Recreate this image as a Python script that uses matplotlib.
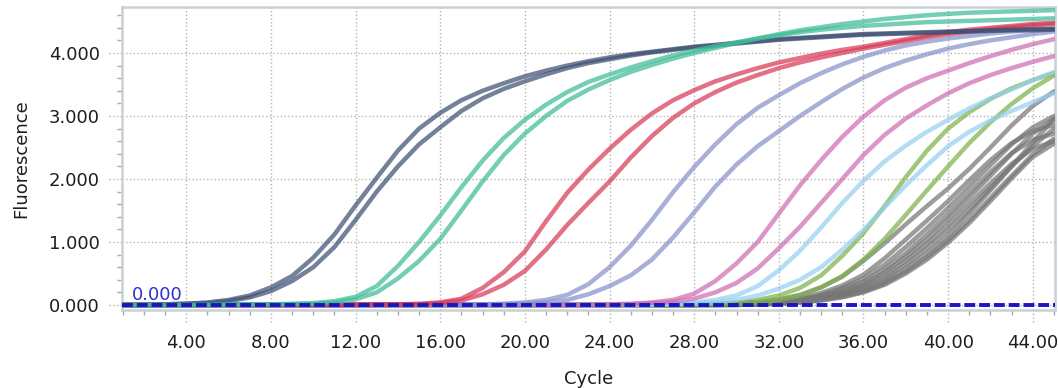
import matplotlib
matplotlib.use("Agg")
import matplotlib.pyplot as plt
from matplotlib.ticker import MultipleLocator, FormatStrFormatter

# amplification curves, one value per cycle (1..45)
cycles = list(range(1, 46))

dark_a = [0.00, 0.00, 0.01, 0.02, 0.04, 0.08, 0.15, 0.28, 0.46, 0.75,
          1.12, 1.58, 2.02, 2.45, 2.80, 3.05, 3.25, 3.40, 3.52, 3.63,
          3.72, 3.80, 3.87, 3.93, 3.98, 4.02, 4.06, 4.10, 4.13, 4.16,
          4.19, 4.22, 4.24, 4.26, 4.28, 4.30, 4.31, 4.32, 4.33, 4.34,
          4.35, 4.36, 4.37, 4.38, 4.38]
dark_b = [0.00, 0.00, 0.01, 0.02, 0.03, 0.06, 0.12, 0.22, 0.38, 0.60,
          0.92, 1.35, 1.80, 2.20, 2.55, 2.82, 3.08, 3.28, 3.43, 3.55,
          3.66, 3.76, 3.84, 3.90, 3.96, 4.01, 4.05, 4.09, 4.12, 4.15,
          4.18, 4.21, 4.23, 4.25, 4.27, 4.29, 4.30, 4.31, 4.32, 4.33,
          4.34, 4.35, 4.36, 4.36, 4.37]

teal_a = [0.00, 0.00, 0.00, 0.00, 0.00, 0.01, 0.01, 0.01, 0.02, 0.03,
          0.06, 0.13, 0.30, 0.62, 1.00, 1.42, 1.87, 2.29, 2.65, 2.94,
          3.18, 3.38, 3.54, 3.66, 3.77, 3.87, 3.96, 4.04, 4.11, 4.17,
          4.23, 4.28, 4.33, 4.37, 4.40, 4.43, 4.45, 4.47, 4.49, 4.50,
          4.51, 4.52, 4.53, 4.54, 4.55]
teal_b = [0.00, 0.00, 0.00, 0.00, 0.00, 0.00, 0.01, 0.01, 0.01, 0.02,
          0.04, 0.09, 0.20, 0.42, 0.70, 1.05, 1.50, 1.96, 2.38, 2.72,
          3.00, 3.24, 3.42, 3.57, 3.70, 3.81, 3.91, 4.00, 4.08, 4.16,
          4.23, 4.30, 4.36, 4.41, 4.46, 4.50, 4.54, 4.57, 4.60, 4.62,
          4.64, 4.65, 4.66, 4.67, 4.68]

red_a = [0.00, 0.00, 0.00, 0.00, 0.00, 0.00, 0.00, 0.00, 0.00, 0.00,
         0.00, 0.01, 0.01, 0.01, 0.02, 0.04, 0.10, 0.27, 0.52, 0.85,
         1.33, 1.78, 2.15, 2.48, 2.78, 3.04, 3.25, 3.41, 3.55, 3.66,
         3.76, 3.85, 3.92, 3.99, 4.05, 4.10, 4.16, 4.22, 4.28, 4.33,
         4.37, 4.40, 4.43, 4.46, 4.48]
red_b = [0.00, 0.00, 0.00, 0.00, 0.00, 0.00, 0.00, 0.00, 0.00, 0.00,
         0.00, 0.00, 0.01, 0.01, 0.01, 0.03, 0.07, 0.17, 0.32, 0.54,
         0.88, 1.27, 1.62, 1.96, 2.34, 2.68, 2.97, 3.20, 3.38, 3.53,
         3.65, 3.76, 3.85, 3.93, 4.00, 4.07, 4.13, 4.19, 4.25, 4.30,
         4.34, 4.38, 4.41, 4.44, 4.46]

lav_a = [0.00, 0.00, 0.00, 0.00, 0.00, 0.00, 0.00, 0.00, 0.00, 0.00,
         0.00, 0.00, 0.00, 0.00, 0.01, 0.01, 0.01, 0.01, 0.02, 0.04,
         0.08, 0.16, 0.33, 0.60, 0.94, 1.35, 1.79, 2.19, 2.55, 2.87,
         3.13, 3.33, 3.52, 3.68, 3.82, 3.94, 4.04, 4.12, 4.18, 4.23,
         4.27, 4.31, 4.34, 4.37, 4.39]
lav_b = [0.00, 0.00, 0.00, 0.00, 0.00, 0.00, 0.00, 0.00, 0.00, 0.00,
         0.00, 0.00, 0.00, 0.00, 0.00, 0.01, 0.01, 0.01, 0.01, 0.02,
         0.04, 0.08, 0.17, 0.30, 0.47, 0.72, 1.07, 1.47, 1.88, 2.23,
         2.52, 2.76, 3.00, 3.22, 3.43, 3.61, 3.76, 3.88, 3.98, 4.07,
         4.14, 4.20, 4.25, 4.30, 4.34]

pink_a = [0.00, 0.00, 0.00, 0.00, 0.00, 0.00, 0.00, 0.00, 0.00, 0.00,
          0.00, 0.00, 0.00, 0.00, 0.00, 0.00, 0.00, 0.00, 0.00, 0.00,
          0.00, 0.00, 0.00, 0.01, 0.02, 0.04, 0.08, 0.18, 0.38, 0.66,
          1.00, 1.45, 1.90, 2.30, 2.67, 2.99, 3.25, 3.45, 3.60, 3.72,
          3.84, 3.95, 4.05, 4.14, 4.22]
pink_b = [0.00, 0.00, 0.00, 0.00, 0.00, 0.00, 0.00, 0.00, 0.00, 0.00,
          0.00, 0.00, 0.00, 0.00, 0.00, 0.00, 0.00, 0.00, 0.00, 0.00,
          0.00, 0.00, 0.00, 0.00, 0.01, 0.03, 0.05, 0.10, 0.20, 0.35,
          0.58, 0.90, 1.24, 1.62, 2.00, 2.38, 2.70, 2.96, 3.17, 3.36,
          3.52, 3.65, 3.76, 3.86, 3.95]

ltblue_a = [0.00, 0.00, 0.00, 0.00, 0.00, 0.00, 0.00, 0.00, 0.00, 0.00,
            0.00, 0.00, 0.00, 0.00, 0.00, 0.00, 0.00, 0.00, 0.00, 0.00,
            0.00, 0.00, 0.00, 0.00, 0.00, 0.01, 0.02, 0.04, 0.08, 0.15,
            0.30, 0.55, 0.86, 1.23, 1.62, 1.97, 2.28, 2.53, 2.75, 2.94,
            3.12, 3.28, 3.42, 3.57, 3.70]
ltblue_b = [0.00, 0.00, 0.00, 0.00, 0.00, 0.00, 0.00, 0.00, 0.00, 0.00,
            0.00, 0.00, 0.00, 0.00, 0.00, 0.00, 0.00, 0.00, 0.00, 0.00,
            0.00, 0.00, 0.00, 0.00, 0.00, 0.00, 0.01, 0.02, 0.04, 0.08,
            0.15, 0.26, 0.40, 0.60, 0.88, 1.19, 1.55, 1.90, 2.22, 2.52,
            2.75, 2.93, 3.08, 3.22, 3.36]

green_a = [0.00, 0.00, 0.00, 0.00, 0.00, 0.00, 0.00, 0.00, 0.00, 0.00,
           0.00, 0.00, 0.00, 0.00, 0.00, 0.00, 0.00, 0.00, 0.00, 0.00,
           0.00, 0.00, 0.00, 0.00, 0.00, 0.00, 0.00, 0.01, 0.02, 0.04,
           0.08, 0.15, 0.27, 0.47, 0.78, 1.14, 1.57, 2.03, 2.45, 2.80,
           3.06, 3.27, 3.44, 3.57, 3.68]
green_b = [0.00, 0.00, 0.00, 0.00, 0.00, 0.00, 0.00, 0.00, 0.00, 0.00,
           0.00, 0.00, 0.00, 0.00, 0.00, 0.00, 0.00, 0.00, 0.00, 0.00,
           0.00, 0.00, 0.00, 0.00, 0.00, 0.00, 0.00, 0.00, 0.01, 0.02,
           0.04, 0.08, 0.15, 0.28, 0.46, 0.72, 1.05, 1.43, 1.82, 2.20,
           2.57, 2.90, 3.19, 3.44, 3.64]

# gray group: cycles 1-27 are flat at zero, values below are cycles 28..45
gray_zero = [0.00] * 27
gray_1 = [0.01, 0.02, 0.03, 0.05, 0.09, 0.16, 0.28, 0.45, 0.70, 0.98, 1.28, 1.57, 1.85, 2.16, 2.50, 2.85, 3.16, 3.39]
gray_2 = [0.00, 0.01, 0.02, 0.03, 0.06, 0.11, 0.19, 0.31, 0.48, 0.74, 1.04, 1.34, 1.65, 1.98, 2.30, 2.57, 2.76, 2.86]
gray_3 = [0.00, 0.01, 0.02, 0.03, 0.05, 0.09, 0.16, 0.27, 0.42, 0.64, 0.92, 1.22, 1.54, 1.88, 2.22, 2.55, 2.82, 3.00]
gray_4 = [0.00, 0.00, 0.01, 0.02, 0.04, 0.08, 0.14, 0.24, 0.37, 0.57, 0.82, 1.12, 1.44, 1.78, 2.11, 2.41, 2.62, 2.72]
gray_5 = [0.00, 0.00, 0.01, 0.02, 0.04, 0.07, 0.12, 0.21, 0.33, 0.52, 0.76, 1.04, 1.36, 1.70, 2.05, 2.40, 2.72, 2.95]
gray_6 = [0.00, 0.00, 0.01, 0.01, 0.03, 0.06, 0.11, 0.19, 0.30, 0.47, 0.70, 0.97, 1.27, 1.60, 1.93, 2.24, 2.48, 2.60]
gray_7 = [0.00, 0.00, 0.00, 0.01, 0.03, 0.06, 0.10, 0.17, 0.27, 0.42, 0.64, 0.90, 1.19, 1.51, 1.86, 2.20, 2.52, 2.80]
gray_8 = [0.00, 0.00, 0.00, 0.01, 0.02, 0.05, 0.09, 0.15, 0.24, 0.38, 0.58, 0.82, 1.10, 1.45, 1.82, 2.20, 2.58, 2.95]
gray_9 = [0.00, 0.00, 0.00, 0.01, 0.02, 0.04, 0.08, 0.13, 0.21, 0.34, 0.53, 0.76, 1.03, 1.35, 1.70, 2.05, 2.39, 2.64]
gray_10 = [0.00, 0.00, 0.00, 0.01, 0.02, 0.04, 0.07, 0.12, 0.20, 0.32, 0.50, 0.72, 0.99, 1.30, 1.65, 2.01, 2.35, 2.56]

threshold = 0.0

curves = [(gray_zero + g, "#767676") for g in
          [gray_1, gray_2, gray_3, gray_4, gray_5, gray_6, gray_7, gray_8, gray_9, gray_10]]
curves += [(green_a, "#7cb24a"), (green_b, "#7cb24a"),
           (ltblue_a, "#96d0f0"), (ltblue_b, "#96d0f0"),
           (pink_a, "#cd6db0"), (pink_b, "#cd6db0"),
           (lav_a, "#8790c9"), (lav_b, "#8790c9"),
           (red_a, "#d83a58"), (red_b, "#d83a58"),
           (dark_a, "#3e5073"), (dark_b, "#3e5073"),
           (teal_a, "#3dbb98"), (teal_b, "#3dbb98")]

plt.rcParams['font.family'] = ['DejaVu Sans']

fig = plt.figure(figsize=(10.58, 3.88), dpi=100)
ax = fig.add_axes([122 / 1058, 1 - 310 / 388, 933 / 1058, 303 / 388])

for vals, col in curves:
    ax.plot(cycles, vals, color=col, lw=3.2, alpha=0.72, zorder=3,
            solid_joinstyle='round', solid_capstyle='round')

ax.axhline(threshold, color="#1616c8", lw=2.8, linestyle=(0, (2.8, 1.0)), zorder=5)
ax.text(1.42, 0.08, "%.3f" % threshold, color="#3030d2", fontsize=13,
        ha="left", va="baseline", zorder=6)

ax.set_xlim(0.96, 45.05)
ax.set_ylim(-0.08, 4.73)
ax.xaxis.set_major_locator(MultipleLocator(4))
ax.xaxis.set_minor_locator(MultipleLocator(1))
ax.yaxis.set_major_locator(MultipleLocator(1))
ax.yaxis.set_minor_locator(MultipleLocator(0.2))
ax.xaxis.set_major_formatter(FormatStrFormatter("%.2f"))
ax.yaxis.set_major_formatter(FormatStrFormatter("%.3f"))

ax.grid(which="major", color="#b4b4b4", linestyle=":", lw=1.0, zorder=1)
ax.tick_params(which="major", length=0, labelsize=13, labelcolor="#1e1e1e")
ax.tick_params(axis="x", which="major", pad=17.5)
ax.tick_params(axis="y", which="major", pad=15.8)
ax.tick_params(which="minor", length=3.5, width=1, color="#a8a8a8")

# dotted major tick marks outside the frame
xt = list(range(4, 45, 4))
yt = [0, 1, 2, 3, 4]
ax.vlines(xt, -0.04, 0, transform=ax.get_xaxis_transform(), colors="#b4b4b4",
          linestyles=":", lw=1.0, clip_on=False)
ax.hlines(yt, -13 / 933, 0, transform=ax.get_yaxis_transform(), colors="#b4b4b4",
          linestyles=":", lw=1.0, clip_on=False)

for s in ax.spines.values():
    s.set_color("#c9d0d8")
    s.set_linewidth(1.8)

fig.text(21 / 1058, 1 - 159 / 388, "Fluorescence", rotation=90, ha="center",
         va="center", fontsize=13, color="#1e1e1e")
fig.text(589 / 1058, 1 - 384 / 388, "Cycle", ha="center", va="baseline",
         fontsize=13, color="#1e1e1e")

fig.savefig("out.png", dpi=100)
